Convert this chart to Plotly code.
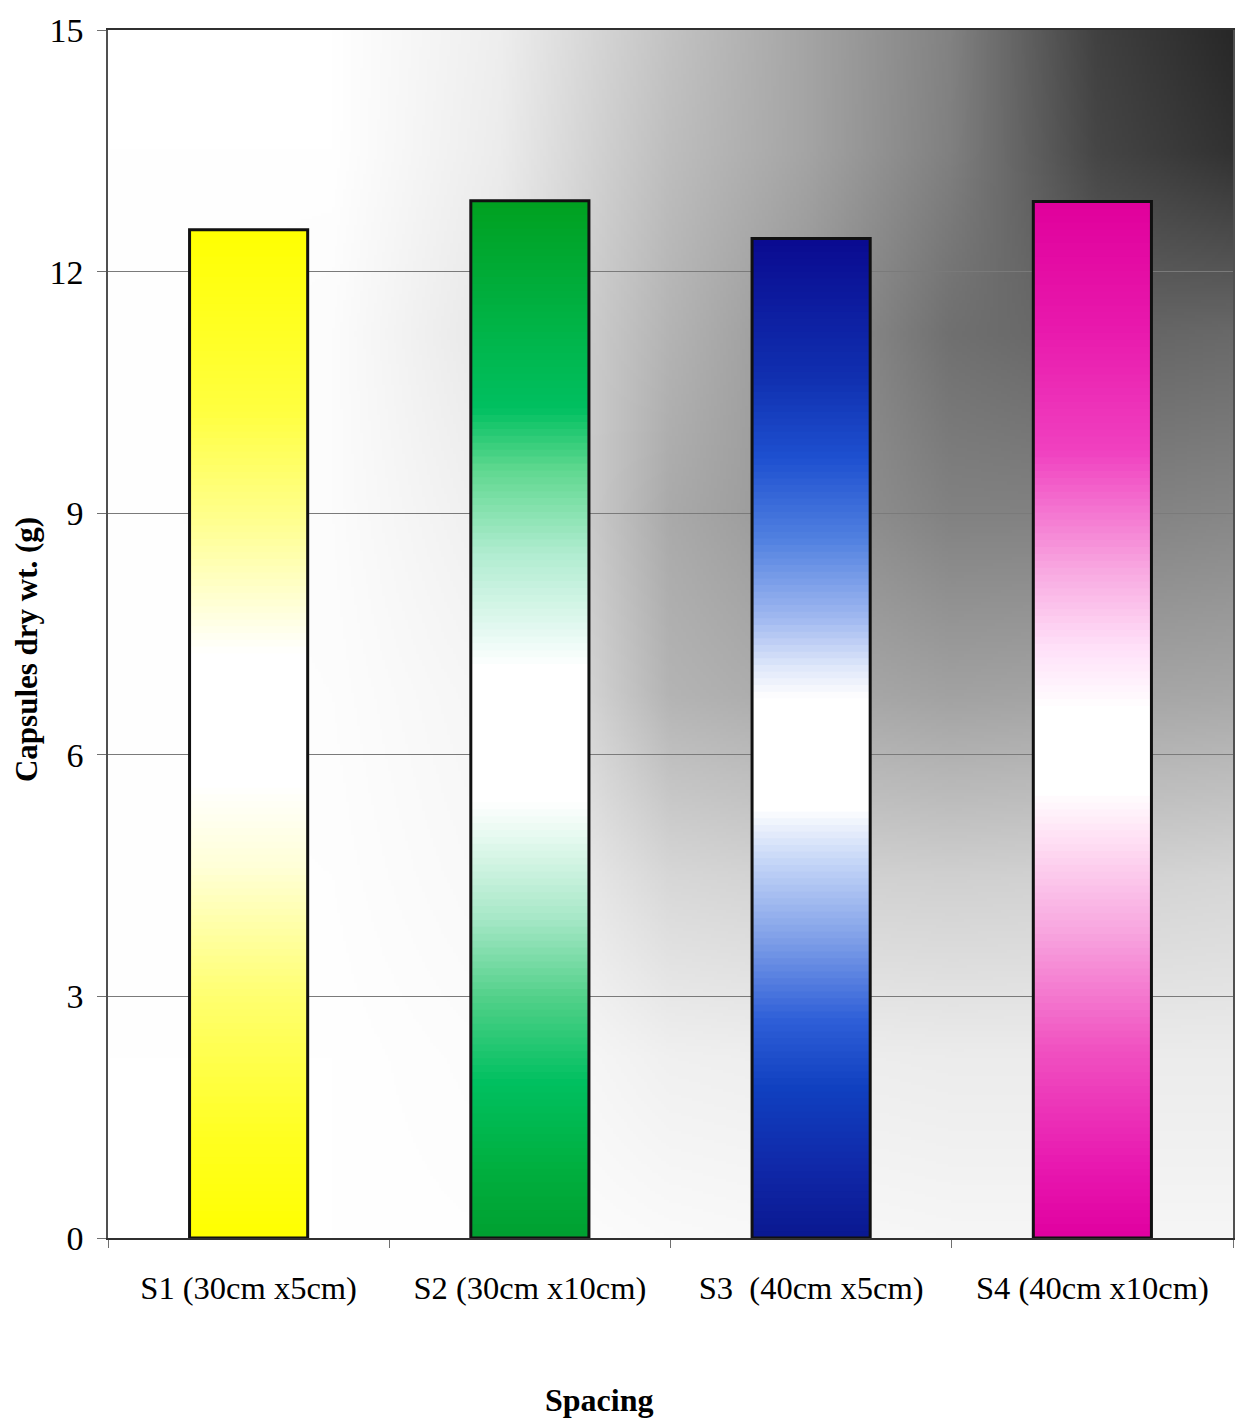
import base64, struct, zlib
import numpy as np
import plotly.graph_objects as go

# ---------------- data ----------------
categories = ["S1 (30cm x5cm)", "S2 (30cm x10cm)", "S3\u00a0 (40cm x5cm)", "S4 (40cm x10cm)"]
values = [12.52, 12.88, 12.41, 12.87]
y_ticks = [0, 3, 6, 9, 12, 15]

# vertical colour stops for each bar (fraction of bar height, colour)
bar_stops = [
    [(0, "#FFFF00"), (0.1, "#FFFF20"), (0.24, "#FFFF70"), (0.37, "#FFFFD8"), (0.45, "#FFFFFF"),
     (0.58, "#FFFFFF"), (0.71, "#FFFF90"), (0.82, "#FFFF40"), (1, "#FFFF00")],
    [(0, "#00A030"), (0.07, "#00B040"), (0.15, "#00C060"), (0.23, "#50D088"), (0.31, "#A8E8C8"),
     (0.38, "#E0F8EC"), (0.42, "#FFFFFF"), (0.55, "#FFFFFF"), (0.58, "#E8FAF4"), (0.66, "#B0ECD0"),
     (0.74, "#60D890"), (0.8, "#00C060"), (0.9, "#00B040"), (1, "#00A020")],
    [(0, "#0A1890"), (0.07, "#1028A8"), (0.15, "#1040C0"), (0.22, "#3060D8"), (0.3, "#80A0E8"),
     (0.38, "#C8D8F8"), (0.43, "#FFFFFF"), (0.54, "#FFFFFF"), (0.57, "#E0E8FA"), (0.62, "#A0B8F0"),
     (0.7, "#5080E0"), (0.78, "#1E50D0"), (0.86, "#1030B0"), (1, "#0A0A90")],
    [(0, "#E000A0"), (0.07, "#E818B0"), (0.18, "#F050C0"), (0.3, "#F8A8E0"), (0.385, "#FFE0F4"),
     (0.43, "#FFFFFF"), (0.51, "#FFFFFF"), (0.57, "#FFE0F8"), (0.645, "#F8A8E0"), (0.76, "#F040C0"),
     (0.88, "#E818AC"), (1, "#E0009C")],
]

# background brightness grid (rows: bottom->top, cols: left->right)
bg_u = [0, 0.2, 0.35, 0.5, 0.62, 0.75, 0.88, 1.0]
bg_v = [0, 0.15, 0.3, 0.45, 0.6, 0.75, 0.9, 1.0]
bg_grid = [
    [255, 255, 254, 250, 248, 246, 246, 246],
    [255, 255, 252, 240, 238, 236, 236, 236],
    [255, 254, 248, 215, 210, 208, 210, 214],
    [255, 253, 245, 180, 170, 162, 165, 168],
    [255, 252, 238, 170, 150, 130, 130, 135],
    [255, 252, 230, 180, 150, 112, 100, 105],
    [255, 255, 236, 190, 165, 128, 70, 50],
    [255, 255, 238, 195, 165, 130, 65, 40],
]


def hex2rgb(h):
    h = h.lstrip("#")
    return [int(h[i:i + 2], 16) for i in (0, 2, 4)]


def color_at(stops, f):
    fs = [s[0] for s in stops]
    cs = np.array([hex2rgb(s[1]) for s in stops], float)
    r = [np.interp(f, fs, cs[:, k]) for k in range(3)]
    return "rgb(%d,%d,%d)" % tuple(int(round(c)) for c in r)


def make_png(arr):
    h, w, _ = arr.shape
    raw = b"".join(b"\x00" + arr[i].tobytes() for i in range(h))

    def chunk(t, d):
        c = struct.pack(">I", len(d)) + t + d
        return c + struct.pack(">I", zlib.crc32(t + d) & 0xffffffff)

    png = b"\x89PNG\r\n\x1a\n"
    png += chunk(b"IHDR", struct.pack(">IIBBBBB", w, h, 8, 2, 0, 0, 0))
    png += chunk(b"IDAT", zlib.compress(raw, 9))
    png += chunk(b"IEND", b"")
    return "data:image/png;base64," + base64.b64encode(png).decode()


# build background gradient image
W, H = 400, 400
g = np.array(bg_grid, float)
us = np.linspace(0, 1, W)
vs = np.linspace(1, 0, H)  # image rows top->bottom
rows = np.array([np.interp(us, bg_u, g[j]) for j in range(len(bg_v))])
img = np.empty((H, W))
for i in range(W):
    img[:, i] = np.interp(vs, bg_v, rows[:, i])
img = np.clip(img, 0, 255).astype(np.uint8)
rgb = np.stack([img, img, img], axis=2)
bg_src = make_png(rgb)

fig = go.Figure()

N = 150
bar_w = 0.42
for k in range(N):
    f = (k + 0.5) / N
    bases = [v * k / N for v in values]
    heights = [min(v * 1.8 / N, v - b) for v, b in zip(values, bases)]
    cols = [color_at(bar_stops[i], f) for i in range(len(values))]
    fig.add_trace(go.Bar(
        x=categories, y=heights, base=bases, width=bar_w,
        marker=dict(color=cols, line=dict(width=0)),
        hoverinfo="skip", showlegend=False,
    ))

# outline
fig.add_trace(go.Bar(
    x=categories, y=values, width=bar_w,
    marker=dict(color="rgba(0,0,0,0)", line=dict(color="#111111", width=3)),
    showlegend=False,
))

serif = "Liberation Serif, Times New Roman, serif"

fig.update_layout(
    width=1240, height=1420,
    margin=dict(l=108, r=5, t=30, b=182),
    paper_bgcolor="white",
    plot_bgcolor="rgba(0,0,0,0)",
    barmode="overlay",
    font=dict(family=serif, color="black"),
    images=[dict(source=bg_src, xref="paper", yref="paper", x=0, y=1, sizex=1, sizey=1,
                 sizing="stretch", layer="below", xanchor="left", yanchor="top")],
    xaxis=dict(
        type="category", showgrid=False, ticks="outside", tickson="boundaries",
        ticklen=8, tickcolor="#707070", showline=True, linecolor="#303030", linewidth=1.5,
        mirror=True, tickfont=dict(family=serif, size=32.5, color="black"),
        ticklabelstandoff=20,
    ),
    yaxis=dict(
        range=[0, 15], tickvals=y_ticks, ticks="outside", ticklen=9, tickcolor="#707070",
        showline=True, linecolor="#505050", linewidth=1.5, mirror=True,
        showgrid=True, gridcolor="#7a7a7a", gridwidth=1.2, zeroline=False,
        tickfont=dict(family=serif, size=34, color="black"),
        ticklabelstandoff=7,
    ),
    annotations=[
        dict(text="<b>Capsules dry wt. (g)</b>", xref="paper", yref="paper",
             x=-0.0726, y=0.487, textangle=-90, showarrow=False,
             xanchor="center", yanchor="middle",
             font=dict(family=serif, size=31, color="black")),
        dict(text="<b>Spacing</b>", xref="paper", yref="paper",
             x=0.436, y=-0.134, showarrow=False,
             xanchor="center", yanchor="middle",
             font=dict(family=serif, size=32, color="black")),
    ],
)

fig.write_html("out.html")
